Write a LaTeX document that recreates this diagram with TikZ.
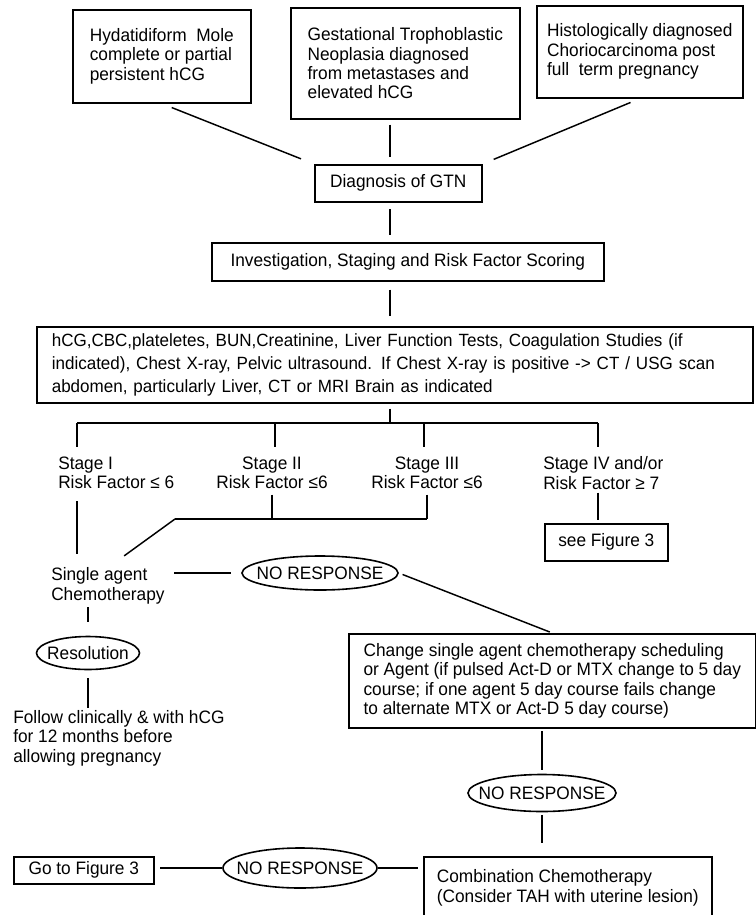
\documentclass[tikz,border=0pt]{standalone}
\usepackage{fontspec}
\setmainfont{Liberation Sans}[FakeStretch=0.96]
\usetikzlibrary{shapes.geometric}
\newcommand{\ovaltxt}[1]{\makebox[0pt]{#1}}

\tikzset{
  box/.style={draw, line width=1.2pt, align=left, anchor=north west},
  oval/.style={draw, ellipse, line width=1.2pt, inner sep=0pt},
  txt/.style={align=left, inner sep=0pt, anchor=west},
  link/.style={line width=1.1pt},
  gap/.style 2 args={shorten <=#1, shorten >=#2}
}

\begin{document}
\begin{tikzpicture}[x=0.75pt, y=-0.75pt, font=\fontsize{13.5}{14.6}\selectfont]
	\useasboundingbox (0,0) rectangle (756,915);
	% top row of boxes
	\node[box, minimum width=133.5pt, minimum height=69.75pt] (hyd) at (72,9) {Hydatidiform\ \ Mole\\complete or partial\\persistent hCG};
	\node[box, minimum width=171.75pt, minimum height=83.25pt] (gtn) at (290,7) {Gestational Trophoblastic\\Neoplasia diagnosed\\from metastases and\\elevated hCG};
	\node[box, minimum width=154.5pt, minimum height=69pt] (hist) at (536,5) {Histologically diagnosed\\Choriocarcinoma post\\full\ \ term pregnancy};
	\node[box, align=center, minimum width=125.25pt, minimum height=27.75pt] (diag) at (314,164) {Diagnosis of GTN};
	\node[box, align=center, minimum width=294pt, minimum height=28.5pt] (inv) at (211,242) {Investigation, Staging and Risk Factor Scoring};
	\node[box, text width=514.5pt, inner xsep=11.25pt, minimum height=57pt, font=\fontsize{13.3}{17}\selectfont] (tests) at (36,326) {hCG,CBC,plateletes, BUN,Creatinine, Liver Function Tests, Coagulation Studies (if\\indicated), Chest X-ray, Pelvic ultrasound. If Chest X-ray is positive -> CT / USG scan\\abdomen, particularly Liver, CT or MRI Brain as indicated};
	% stages
	\node[txt] (s1) at (58,473) {Stage I\\Risk Factor ≤ 6};
	\node[txt, align=center, anchor=center] (s2) at (272,473) {Stage II\\Risk Factor ≤6};
	\node[txt, align=center, anchor=center] (s3) at (427,473) {Stage III\\Risk Factor ≤6};
	\node[txt] (s4) at (543,473) {Stage IV and/or\\Risk Factor ≥ 7};
	\node[box, align=center, minimum width=92.25pt, minimum height=27.75pt] (fig3a) at (544,523) {see Figure 3};
	% treatment
	\node[txt] (single) at (51,586) {Single agent\\Chemotherapy};
	\node[oval, minimum width=117pt, minimum height=25.5pt] (nr1) at (320,573) {\ovaltxt{NO RESPONSE}};
	\node[oval, minimum width=77.25pt, minimum height=24.75pt] (res) at (88,653) {\ovaltxt{Resolution}};
	\node[txt] (follow) at (13,738) {Follow clinically \& with hCG\\for 12 months before\\allowing pregnancy};
	\node[box, minimum width=305.25pt, minimum height=70.5pt] (change) at (348,633) {Change single agent chemotherapy scheduling\\or Agent (if pulsed Act-D or MTX change to 5 day\\course; if one agent 5 day course fails change\\to alternate MTX or Act-D 5 day course)};
	\node[oval, minimum width=111pt, minimum height=27.75pt] (nr2) at (542,793) {\ovaltxt{NO RESPONSE}};
	\node[box, minimum width=216pt, minimum height=46.5pt] (comb) at (423,856) {Combination Chemotherapy\\(Consider TAH with uterine lesion)};
	\node[oval, minimum width=115.5pt, minimum height=30pt] (nr3) at (300,868) {\ovaltxt{NO RESPONSE}};
	\node[box, align=center, minimum width=105pt, minimum height=20.25pt] (fig3b) at (13,856) {Go to Figure 3};
	% junctions
	\coordinate (spine) at (390,0);
	\coordinate (b1) at (77,423);
	\coordinate (b2) at (275,423);
	\coordinate (b3) at (424,423);
	\coordinate (b4) at (598,423);
	\coordinate (m2) at (175,519);
	\coordinate (m3) at (427,519);
	% connectors
	\draw[link, gap={8pt}{10.5pt}] (hyd.south) -- (diag.north west);
	\draw[link, gap={3.75pt}{5pt}] (gtn.south -| spine) -- (diag.north -| spine);
	\draw[link, gap={7.5pt}{9pt}] (hist.south) -- (diag.north east);
	\draw[link, gap={5pt}{5pt}] (diag.south -| spine) -- (inv.north -| spine);
	\draw[link, gap={6pt}{7.5pt}] (inv.south -| spine) -- (tests.north -| spine);
	\draw[link, shorten <=3.75pt] (tests.south -| spine) -- (spine |- b1);
	\draw[link] (b1) -- (b4);
	\foreach \b/\s in {b1/s1, b2/s2, b3/s3, b4/s4}
		\draw[link, shorten >=7pt] (\b) -- (\b |- \s.north);
	\draw[link, gap={9pt}{10.5pt}] (s1.south -| b1) -- (single.north -| b1);
	\draw[link, shorten <=4pt] (s2.south) -- (s2.south |- m2);
	\draw[link, shorten <=4pt] (s3.south) -- (s3.south |- m3);
	\draw[link] (m2) -- (m3);
	\draw[link, shorten >=15pt] (m2) -- (single.north);
	\draw[link, gap={2.25pt}{2.25pt}] (s4.south -| b4) -- (fig3a.north -| b4);
	\draw[link, gap={7pt}{7.5pt}] (single.east |- nr1) -- (nr1.west);
	\draw[link, gap={3pt}{2pt}] (nr1.east) -- (change.north);
	\draw[link, gap={2pt}{10pt}] (single.south -| res) -- (res.north);
	\draw[link, gap={6pt}{1.5pt}] (res.south) -- (res.south |- follow.north);
	\draw[link, gap={2pt}{3pt}] (nr2.north |- change.south) -- (nr2.north);
	\draw[link, gap={2pt}{10pt}] (nr2.south) -- (nr2.south |- comb.north);
	\draw[link, gap={4pt}{0pt}] (comb.west |- nr3) -- (nr3.east);
	\draw[link, gap={0pt}{4pt}] (nr3.west) -- (fig3b.east |- nr3);
\end{tikzpicture}
\end{document}
